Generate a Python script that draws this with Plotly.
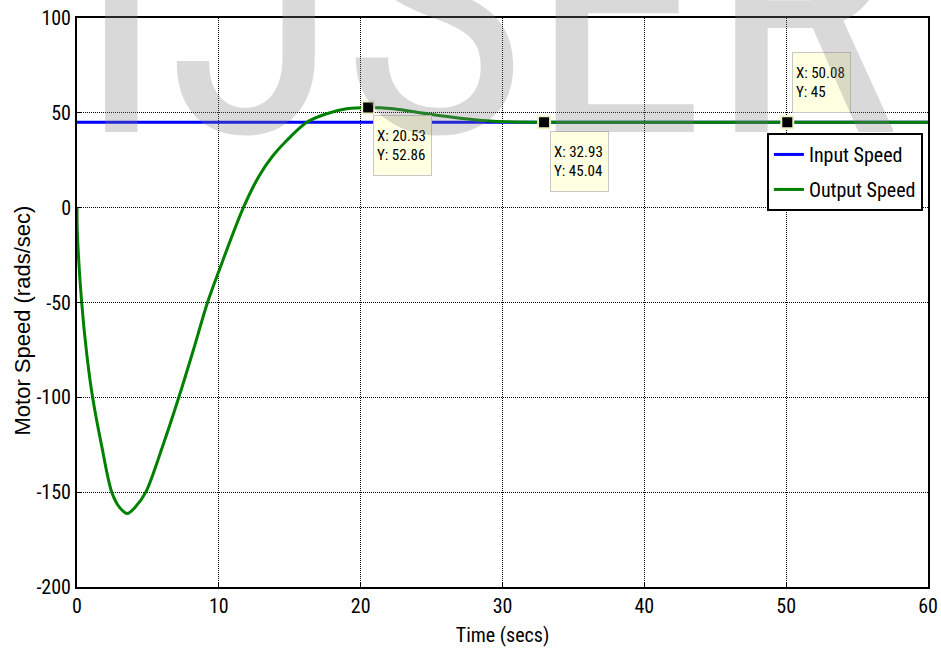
import plotly.graph_objects as go

# Simulation time (s) and motor speed samples (rad/s)
time_out = [0, 0.02, 0.33, 0.7, 1.1, 1.75, 2.45, 3.0, 3.55, 4.1, 4.85, 6.0, 7.18,
            8.2, 9.2, 10.0, 11.73, 12.86, 13.73, 14.79, 16.2, 17.6, 19.0,
            20.53, 22.3, 24.66, 27.0, 29.36, 32.93, 40.0, 50.08, 60.0]
speed_out = [0, -12, -50, -78, -100, -126, -150, -158, -161.3, -158, -150, -126.6,
             -100, -75.2, -50, -33.5, 0, 17.0, 26.6, 35.4, 45, 49.5, 52.1,
             52.86, 52.1, 49.5, 47.2, 45.6, 45.04, 45, 45, 45]

time_in = [0, 60]
speed_in = [45, 45]

# Data cursors placed on the output response
tip_x = [20.53, 32.93, 50.08]
tip_y = [52.86, 45.04, 45]
tip_shift = [(5, -8), (6, -9), (5, 9)]
tip_anchor = ["top", "top", "bottom"]

x_ticks = [0, 10, 20, 30, 40, 50, 60]
y_ticks = [-200, -150, -100, -50, 0, 50, 100]

NARROW = "Roboto Condensed, Liberation Sans, Arial, sans-serif"
REGULAR = "Liberation Sans, Arial, sans-serif"

fig = go.Figure()
fig.add_trace(go.Scatter(x=time_in, y=speed_in, mode="lines", name="Input Speed",
                         legendgroup="in",
                         line=dict(color="#0000ff", width=3)))
fig.add_trace(go.Scatter(x=time_out, y=speed_out, mode="lines", name="Output Speed",
                         legendgroup="out",
                         line=dict(color="#008000", width=3, shape="spline", smoothing=0.9)))
fig.add_trace(go.Scatter(x=tip_x, y=tip_y, mode="markers", showlegend=False,
                         marker=dict(symbol="square", size=12, color="black",
                                     line=dict(color="rgb(240,240,200)", width=2))))

annotations = []
for x, y, (dx, dy), anc in zip(tip_x, tip_y, tip_shift, tip_anchor):
    annotations.append(dict(
        x=x, y=y, xref="x", yref="y", showarrow=False,
        text=f"X: {x:g}<br>Y: {y:g}", align="left",
        xanchor="left", yanchor=anc, xshift=dx, yshift=dy,
        width=51, height=53, borderpad=3, valign="middle",
        bgcolor="#ffffe1", bordercolor="#c8c8c8", borderwidth=1,
        font=dict(family=NARROW, size=15, color="black")))

# Y axis label
annotations.append(dict(
    x=-0.064, y=0.4675, xref="paper", yref="paper", showarrow=False,
    xanchor="center", yanchor="middle", textangle=-90,
    text="Motor Speed (rads/sec)",
    font=dict(family=REGULAR, size=22, color="black")))

# Translucent watermark over the plot
annotations.append(dict(
    x=-0.0035, y=0.642, xref="paper", yref="paper", showarrow=False,
    xanchor="left", yanchor="bottom", text="IJSER",
    font=dict(family=NARROW, size=361, color="rgba(128,128,128,0.3)")))

fig.update_layout(
    width=941, height=652,
    margin=dict(l=77, r=13, t=18, b=65),
    paper_bgcolor="white", plot_bgcolor="white",
    font=dict(family=NARROW, size=20, color="black"),
    showlegend=True,
    legend=dict(x=0.994, y=0.798, xanchor="right", yanchor="top",
                bgcolor="white", bordercolor="black", borderwidth=2,
                font=dict(family=NARROW, size=20), tracegroupgap=6),
    annotations=annotations,
)

axis_common = dict(
    showline=True, linecolor="black", linewidth=2, mirror=True,
    showgrid=True, gridcolor="black", gridwidth=1, griddash="1px,1px",
    ticks="inside", ticklen=5, tickcolor="black", zeroline=False, automargin=False,
    tickfont=dict(family=NARROW, size=20, color="black"),
)
fig.update_xaxes(range=[0, 60], tickvals=x_ticks, ticktext=[str(v) for v in x_ticks],
                 **axis_common,
                 title=dict(text="Time (secs)", standoff=11,
                            font=dict(family=NARROW, size=20)))
fig.update_yaxes(range=[-200, 100], tickvals=y_ticks, ticktext=[str(v) for v in y_ticks],
                 **axis_common)

fig.write_html("out.html")
